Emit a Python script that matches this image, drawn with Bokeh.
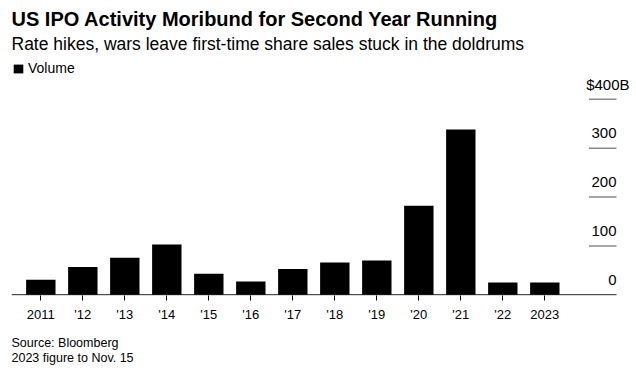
from bokeh.plotting import figure
from bokeh.models import Range1d, FixedTicker, Label, Legend, LegendItem, Title
from bokeh.embed import file_html
from bokeh.resources import INLINE

# ---- data ----
years = ["2011", "'12", "'13", "'14", "'15", "'16", "'17", "'18", "'19", "'20", "'21", "'22", "2023"]
volume = [31, 57, 76, 103, 43, 27, 53, 66, 70, 182, 338, 25, 25]  # $B
y_ticks = [0, 100, 200, 300, 400]
y_tick_labels = ["0", "100", "200", "300", "$400B"]

title = "US IPO Activity Moribund for Second Year Running"
subtitle = "Rate hikes, wars leave first-time share sales stuck in the doldrums"
legend_label = "Volume"
source_lines = ["Source: Bloomberg", "2023 figure to Nov. 15"]

FONT = "Liberation Sans"
idx = list(range(len(years)))
x_lo, x_hi_axis = -0.698, 13.707

p = figure(width=636, height=375, output_backend="svg", toolbar_location=None,
           x_range=Range1d(x_lo, 14.183), y_range=Range1d(-1.43, 602.1),
           min_border_left=11, min_border_right=0, min_border_top=0, min_border_bottom=80,
           y_axis_location=None)
p.outline_line_color = None
p.grid.visible = False
p.background_fill_color = "white"
p.border_fill_color = "white"

bars = p.vbar(x=idx, top=volume, bottom=0, width=0.7, fill_color="black", line_color=None)

# baseline
p.segment(x0=[x_lo], x1=[x_hi_axis], y0=[0], y1=[0], line_color="black", line_width=1)

# short gridlines at right, above which the value labels sit
grid_y = [t for t in y_ticks if t > 0]
p.segment(x0=[13.05] * len(grid_y), x1=[x_hi_axis] * len(grid_y), y0=grid_y, y1=grid_y,
          line_color="#8a8a8a", line_width=1.5)

for t, lab in zip(y_ticks, y_tick_labels):
    xr = 618 if lab.startswith("$") else 605
    p.add_layout(Label(x=xr, y=t, x_units="screen", y_units="data", text=lab,
                       text_align="right", text_baseline="alphabetic", y_offset=15,
                       text_font=FONT, text_font_size="15px", text_color="black"))

# x axis
ax = p.xaxis[0]
ax.ticker = FixedTicker(ticks=idx)
ax.major_label_overrides = {i: y for i, y in zip(idx, years)}
ax.axis_line_color = None
ax.major_tick_line_color = "black"
ax.major_tick_out = 5
ax.major_tick_in = 0
ax.minor_tick_line_color = None
ax.major_label_standoff = 6
ax.major_label_text_font = FONT
ax.major_label_text_font_size = "13px"
ax.major_label_text_color = "black"

# titles (screen units relative to frame bottom-left; frame left=11, bottom=295)
p.add_layout(Label(x=0, y=277, x_units="screen", y_units="screen", text=title,
                   text_font=FONT, text_font_size="20px", text_font_style="bold",
                   text_color="black", text_baseline="alphabetic"))
p.add_layout(Label(x=0, y=251.5, x_units="screen", y_units="screen", text=subtitle,
                   text_font=FONT, text_font_size="17.5px", text_color="black",
                   text_baseline="alphabetic"))

legend = Legend(items=[LegendItem(label=legend_label, renderers=[bars])],
                location=(1, 219), orientation="horizontal",
                glyph_width=12, glyph_height=11, label_height=11, label_standoff=4,
                padding=0, margin=0, spacing=0,
                label_text_font=FONT, label_text_font_size="14px", label_text_color="black",
                border_line_color=None, background_fill_alpha=0)
p.add_layout(legend)

p.add_layout(Title(text="\n".join(source_lines), align="left", standoff=19, offset=0,
                   text_font=FONT, text_font_size="12.5px", text_font_style="normal",
                   text_line_height=1.1, text_color="black"), "below")

open("out.html", "w").write(file_html(p, INLINE))
